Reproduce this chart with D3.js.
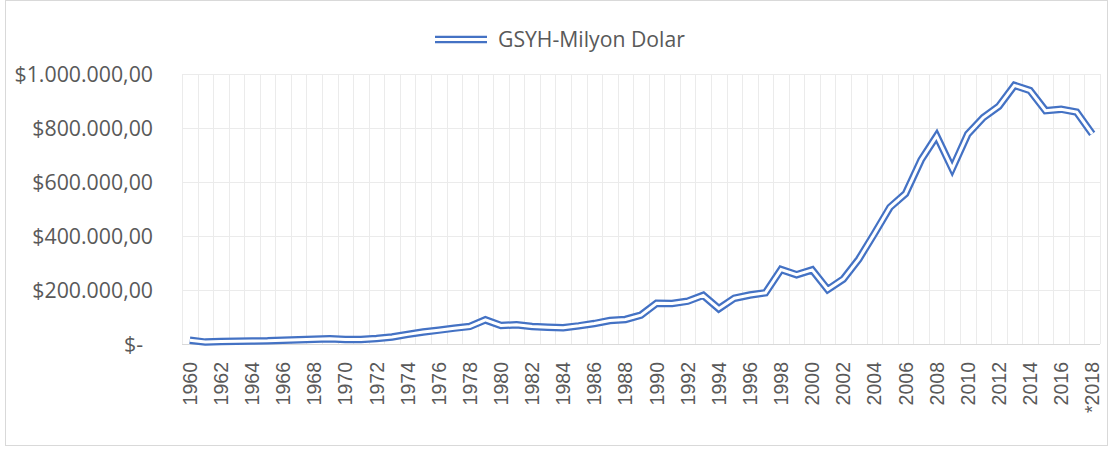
<!DOCTYPE html>
<html>
<head>
<meta charset="utf-8">
<script src="https://cdn.jsdelivr.net/npm/d3@7"></script>
<style>
  body { margin: 0; background: #fff; }
  svg { display: block; }
</style>
</head>
<body>
<div id="chart"></div>
<script>
// kategoriler (yillar) - 2018 tahmini
const years = ["1960","1961","1962","1963","1964","1965","1966","1967","1968","1969",
  "1970","1971","1972","1973","1974","1975","1976","1977","1978","1979",
  "1980","1981","1982","1983","1984","1985","1986","1987","1988","1989",
  "1990","1991","1992","1993","1994","1995","1996","1997","1998","1999",
  "2000","2001","2002","2003","2004","2005","2006","2007","2008","2009",
  "2010","2011","2012","2013","2014","2015","2016","2017","*2018"];

// GSYH, milyon dolar
const gsyh = [14000, 7000, 8900, 10400, 11200, 12000, 14100, 15700, 17500, 19500,
  17100, 16400, 20400, 25700, 35600, 44600, 51300, 58700, 65100, 89400,
  68800, 71000, 64500, 61700, 60000, 67200, 75700, 87200, 90900, 107100,
  150700, 150000, 158500, 180200, 130700, 169500, 181500, 189800, 276000, 256400,
  274300, 201800, 240300, 314600, 408900, 506300, 557100, 681300, 770500, 649300,
  777000, 838800, 880600, 957800, 938900, 864300, 869700, 859000, 778400];

const yTicks = [0, 200000, 400000, 600000, 800000, 1000000];
const yTickLabels = ["$-", "$200.000,00", "$400.000,00", "$600.000,00", "$800.000,00", "$1.000.000,00"];
const seriesName = "GSYH-Milyon Dolar";

const W = 1113, H = 450;
const margin = { top: 74, right: 13, bottom: 106, left: 182 };
const blue = "#4472C4", textCol = "#595959";

const svg = d3.select("#chart").append("svg")
  .attr("width", W).attr("height", H);

// cerceve
svg.append("rect")
  .attr("x", 5.5).attr("y", 0.5)
  .attr("width", 1102).attr("height", 445)
  .attr("fill", "#fff").attr("stroke", "#d9d9d9");

const x = d3.scaleBand()
  .domain(years)
  .range([margin.left, W - margin.right]);

const y = d3.scaleLinear()
  .domain([0, 1000000])
  .range([H - margin.bottom, margin.top]);

const cx = d => x(d) + x.bandwidth() / 2;

// yatay grid
svg.append("g").selectAll("line")
  .data(yTicks.slice(1))
  .enter().append("line")
  .attr("x1", margin.left).attr("x2", W - margin.right)
  .attr("y1", d => Math.round(y(d)) + 0.5).attr("y2", d => Math.round(y(d)) + 0.5)
  .attr("stroke", "#ebebeb").attr("stroke-width", 1);

// dikey grid (kategori sinirlari)
const bounds = years.map(d => x(d)).concat([W - margin.right]);
svg.append("g").selectAll("line")
  .data(bounds)
  .enter().append("line")
  .attr("x1", d => Math.round(d) + 0.5).attr("x2", d => Math.round(d) + 0.5)
  .attr("y1", margin.top).attr("y2", H - margin.bottom)
  .attr("stroke", "#ebebeb").attr("stroke-width", 1);

// x ekseni cizgisi
svg.append("line")
  .attr("x1", margin.left).attr("x2", W - margin.right)
  .attr("y1", Math.round(y(0)) + 0.5).attr("y2", Math.round(y(0)) + 0.5)
  .attr("stroke", "#d9d9d9");

// y etiketleri
svg.append("g").selectAll("text")
  .data(yTicks)
  .enter().append("text")
  .attr("x", (d, i) => i === 0 ? 143 : 153)
  .attr("y", d => y(d))
  .attr("dy", "0.36em")
  .attr("text-anchor", "end")
  .attr("fill", textCol)
  .style("font-family", "'Open Sans', sans-serif")
  .style("font-size", "21.3px")
  .text((d, i) => yTickLabels[i]);

// x etiketleri - her iki yilda bir
svg.append("g").selectAll("text")
  .data(years.filter((d, i) => i % 2 === 0))
  .enter().append("text")
  .attr("transform", d => `translate(${cx(d)},${H - margin.bottom + 18}) rotate(-90)`)
  .attr("dy", "0.36em")
  .attr("text-anchor", "end")
  .attr("fill", textCol)
  .style("font-family", "'Liberation Sans', Arial, sans-serif")
  .style("font-size", "19.5px")
  .text(d => d);

// cift cizgi
const line = d3.line()
  .x((d, i) => cx(years[i]))
  .y(d => y(d));

svg.append("path")
  .datum(gsyh)
  .attr("d", line)
  .attr("fill", "none")
  .attr("stroke", blue)
  .attr("stroke-width", 7.5)
  .attr("stroke-linejoin", "miter");

svg.append("path")
  .datum(gsyh)
  .attr("d", line)
  .attr("fill", "none")
  .attr("stroke", "#fff")
  .attr("stroke-width", 3)
  .attr("stroke-linejoin", "miter");

// lejant
const lg = svg.append("g");
lg.append("line").attr("x1", 435).attr("x2", 487).attr("y1", 39.5).attr("y2", 39.5)
  .attr("stroke", blue).attr("stroke-width", 7.5);
lg.append("line").attr("x1", 435).attr("x2", 487).attr("y1", 39.5).attr("y2", 39.5)
  .attr("stroke", "#fff").attr("stroke-width", 3);
lg.append("text")
  .attr("x", 498).attr("y", 39.5).attr("dy", "0.36em")
  .attr("fill", textCol)
  .style("font-family", "'Open Sans', sans-serif")
  .style("font-size", "21.2px")
  .text(seriesName);
</script>
</body>
</html>
